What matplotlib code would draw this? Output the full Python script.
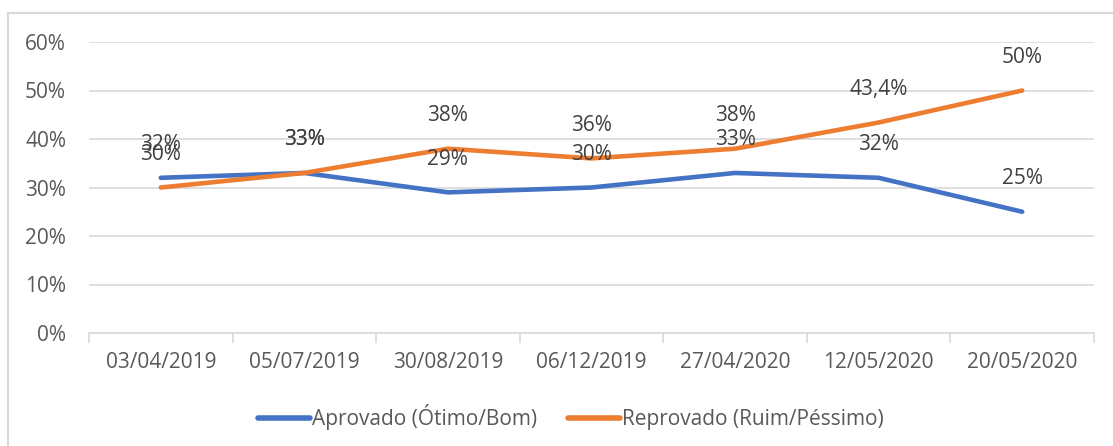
import matplotlib
matplotlib.use("Agg")
import matplotlib.pyplot as plt
from matplotlib.lines import Line2D

plt.rcParams['font.family'] = ['Open Sans', 'DejaVu Sans']

# dados
datas = ['03/04/2019', '05/07/2019', '30/08/2019', '06/12/2019',
         '27/04/2020', '12/05/2020', '20/05/2020']
aprovado = [32, 33, 29, 30, 33, 32, 25]
reprovado = [30, 33, 38, 36, 38, 43.4, 50]
yticks = [0, 10, 20, 30, 40, 50, 60]

azul = '#4472C4'
laranja = '#ED7D31'
W, H = 1113, 446

fig = plt.figure(figsize=(W / 100, H / 100), dpi=100)
ax = fig.add_axes([89 / W, (H - 333) / H, (1094 - 89) / W, (333 - 42) / H])

x = list(range(len(datas)))
ax.plot(x, aprovado, color=azul, lw=3.3, solid_capstyle='round', label='Aprovado (Ótimo/Bom)')
ax.plot(x, reprovado, color=laranja, lw=3.3, solid_capstyle='round', label='Reprovado (Ruim/Péssimo)')

def fmt(v):
    return f"{v:g}".replace('.', ',') + '%'

for serie in (aprovado, reprovado):
    for xi, v in zip(x, serie):
        ax.annotate(fmt(v), (xi, v), xytext=(0, 33), textcoords='offset pixels',
                    ha='center', va='center', fontsize=15, color='#404040')

ax.set_xlim(-0.5, len(datas) - 0.5)
ax.set_ylim(0, 60)
ax.set_yticks(yticks)
ax.set_yticklabels([f"{t}%" for t in yticks])
ax.set_xticks(x)
ax.set_xticklabels(datas)
ax.set_xticks([i - 0.5 for i in range(len(datas) + 1)], minor=True)
ax.tick_params(axis='x', which='major', length=0, pad=14, labelsize=15, labelcolor='#595959')
ax.tick_params(axis='x', which='minor', length=7, color='#D9D9D9', width=1.2)
ax.tick_params(axis='y', length=0, pad=16.5, labelsize=15, labelcolor='#595959')

ax.grid(axis='y', color='#D9D9D9', lw=1.2)
ax.set_axisbelow(True)
for s in ['top', 'right', 'left']:
    ax.spines[s].set_visible(False)
ax.spines['bottom'].set_color('#D9D9D9')
ax.spines['bottom'].set_linewidth(1.2)

# moldura do grafico
fig.add_artist(Line2D([8 / W, 8 / W], [0, (H - 13) / H], color='#D9D9D9', lw=1.5,
                      transform=fig.transFigure))
fig.add_artist(Line2D([8 / W, 1], [(H - 13) / H, (H - 13) / H], color='#D9D9D9', lw=1.5,
                      transform=fig.transFigure))

leg = fig.legend(loc='center', bbox_to_anchor=(571 / W, 29 / H), ncol=2, frameon=False,
                 fontsize=15, labelcolor='#595959', handlelength=2.5, handletextpad=0.1,
                 columnspacing=1.5)
for h in leg.get_lines():
    h.set_linewidth(4)

fig.savefig('out.png', dpi=100)
